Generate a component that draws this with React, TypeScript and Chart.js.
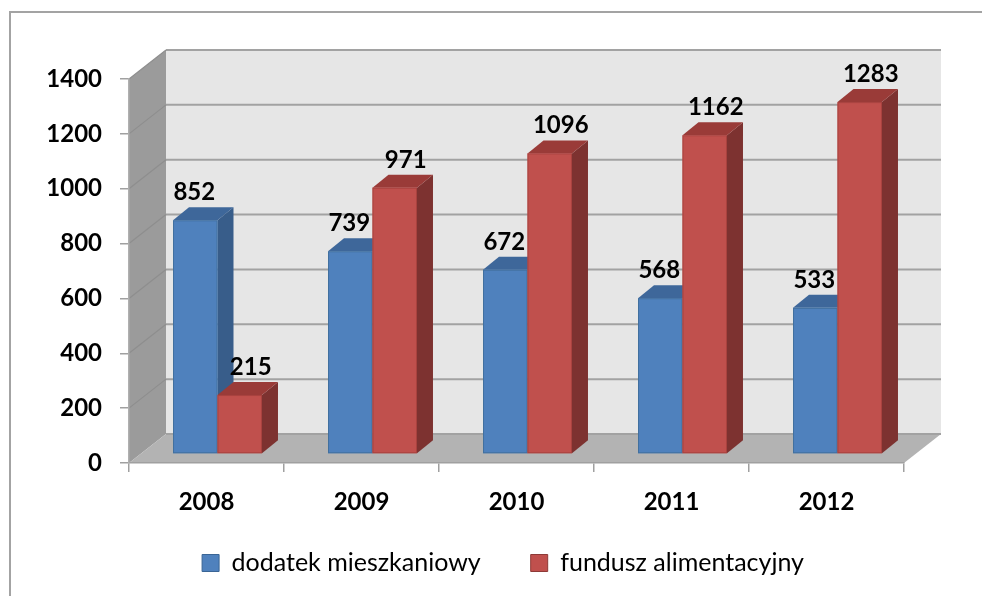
import React, { useEffect, useRef } from "react";
import { Chart, registerables } from "chart.js";

Chart.register(...registerables);

// ---- data ----
const categories = ["2008", "2009", "2010", "2011", "2012"];
const seriesNames = ["dodatek mieszkaniowy", "fundusz alimentacyjny"];
const dodatekMieszkaniowy = [852, 739, 672, 568, 533];
const funduszAlimentacyjny = [215, 971, 1096, 1162, 1283];
const yTicks = [0, 200, 400, 600, 800, 1000, 1200, 1400];

// ---- styles ----
const FONT = "Lato, 'Open Sans', sans-serif";
const WALL_DX = 37;
const WALL_DY = -29;
const BAR_SHIFT_X = 11;
const BAR_SHIFT_Y = -9;
const BAR_DX = 16;
const BAR_DY = -13;
const palette = [
  { front: "#4F81BD", top: "#3E679A", side: "#385D8A", edge: "#42709F" },
  { front: "#C0504D", top: "#9A3B38", side: "#7D3230", edge: "#A8423F" },
];
const labelOffsetX = [-1, 11];
const labelGap = 20;
const LEGEND_PAD = 50;
const LEGEND_FONT = 25;
const LEGEND_CENTER_X = 503;
const LEGEND_TEXT_Y = 563;

function poly(ctx: CanvasRenderingContext2D, pts: number[][], fill: string) {
  ctx.beginPath();
  ctx.moveTo(pts[0][0], pts[0][1]);
  for (let i = 1; i < pts.length; i++) ctx.lineTo(pts[i][0], pts[i][1]);
  ctx.closePath();
  ctx.fillStyle = fill;
  ctx.fill();
}

const threeD = {
  id: "threeD",
  afterLayout(chart: any) {
    const lg = chart.legend;
    if (!lg) return;
    const dx = LEGEND_CENTER_X - (lg.left + lg.right) / 2;
    const itemH = Math.max(LEGEND_FONT, 17);
    const dy = LEGEND_TEXT_Y - (lg.top + LEGEND_PAD + itemH / 2);
    lg.left += dx;
    lg.right += dx;
    lg.top += dy;
    lg.bottom += dy;
  },
  beforeDraw(chart: any) {
    const { ctx, chartArea } = chart;
    const { left, right } = chartArea;
    const y = chart.scales.y;
    const y0 = y.getPixelForValue(0);
    const yMax = y.getPixelForValue(y.max);
    ctx.save();
    ctx.strokeStyle = "#a3a3a3";
    ctx.lineWidth = 2;
    ctx.strokeRect(10, 12, chart.width + 40, chart.height + 40);
    ctx.fillStyle = "#E6E6E6";
    ctx.fillRect(left + WALL_DX, yMax + WALL_DY, right - left, y0 - yMax);
    poly(ctx, [
      [left, yMax],
      [left + WALL_DX, yMax + WALL_DY],
      [left + WALL_DX, y0 + WALL_DY],
      [left, y0],
    ], "#9B9B9B");
    poly(ctx, [
      [left, y0],
      [right, y0],
      [right + WALL_DX, y0 + WALL_DY],
      [left + WALL_DX, y0 + WALL_DY],
    ], "#B3B3B3");
    for (const v of yTicks) {
      const py = y.getPixelForValue(v);
      ctx.beginPath();
      ctx.strokeStyle = "#A2A2A2";
      ctx.lineWidth = 2;
      ctx.moveTo(left + WALL_DX, py + WALL_DY);
      ctx.lineTo(right + WALL_DX, py + WALL_DY);
      ctx.stroke();
      if (v > 0) {
        ctx.beginPath();
        ctx.strokeStyle = "#8E8E8E";
        ctx.lineWidth = 1.2;
        ctx.moveTo(left, py);
        ctx.lineTo(left + WALL_DX, py + WALL_DY);
        ctx.stroke();
      }
    }
    ctx.restore();
  },
  beforeDatasetsDraw(chart: any) {
    const { ctx } = chart;
    ctx.save();
    chart.data.datasets.forEach((ds: any, di: number) => {
      const meta = chart.getDatasetMeta(di);
      const col = palette[di];
      meta.data.forEach((el: any) => {
        const { x, y, base, width } = el.getProps(["x", "y", "base", "width"], true);
        const x0 = x - width / 2 + BAR_SHIFT_X;
        const x1 = x + width / 2 + BAR_SHIFT_X;
        const t = y + BAR_SHIFT_Y;
        const b = base + BAR_SHIFT_Y;
        poly(ctx, [[x1, b], [x1, t], [x1 + BAR_DX, t + BAR_DY], [x1 + BAR_DX, b + BAR_DY]], col.side);
        poly(ctx, [[x0, t], [x1, t], [x1 + BAR_DX, t + BAR_DY], [x0 + BAR_DX, t + BAR_DY]], col.top);
        ctx.fillStyle = col.front;
        ctx.fillRect(x0, t, x1 - x0, b - t);
        ctx.strokeStyle = col.edge;
        ctx.lineWidth = 1;
        ctx.strokeRect(x0 + 0.5, t + 0.5, x1 - x0 - 1, b - t - 1);
      });
    });
    ctx.font = `bold 24px ${FONT}`;
    ctx.fillStyle = "#000";
    ctx.textAlign = "center";
    ctx.textBaseline = "alphabetic";
    chart.data.datasets.forEach((ds: any, di: number) => {
      const meta = chart.getDatasetMeta(di);
      meta.data.forEach((el: any, i: number) => {
        const { x, y } = el.getProps(["x", "y"], true);
        ctx.fillText(String(ds.data[i]), x + BAR_SHIFT_X + labelOffsetX[di], y + BAR_SHIFT_Y - labelGap);
      });
    });
    ctx.restore();
    return false;
  },
};

export default function App() {
  const ref = useRef<HTMLCanvasElement>(null);
  useEffect(() => {
    if (!ref.current) return;
    const chart = new Chart(ref.current, {
      type: "bar",
      data: {
        labels: categories,
        datasets: [
          {
            label: seriesNames[0],
            data: dodatekMieszkaniowy,
            backgroundColor: palette[0].front,
            borderColor: "#3A6595",
            borderWidth: 1,
          },
          {
            label: seriesNames[1],
            data: funduszAlimentacyjny,
            backgroundColor: palette[1].front,
            borderColor: "#8E3A37",
            borderWidth: 1,
          },
        ],
      },
      options: {
        responsive: false,
        animation: false,
        categoryPercentage: 0.574,
        barPercentage: 1,
        layout: { padding: { top: 79, left: 44, right: 78, bottom: -6 } },
        plugins: {
          tooltip: { enabled: false },
          legend: {
            position: "bottom",
            labels: {
              boxWidth: 17,
              boxHeight: 17,
              padding: LEGEND_PAD,
              color: "#000",
              font: { family: FONT, size: LEGEND_FONT },
            },
          },
        },
        scales: {
          x: {
            grid: {
              display: true,
              drawOnChartArea: false,
              drawTicks: true,
              tickLength: 9,
              color: "#A0A0A0",
              lineWidth: 1.5,
            },
            border: { display: true, color: "#A0A0A0", width: 1.5 },
            ticks: {
              color: "#000",
              padding: 16,
              font: { family: FONT, size: 24, weight: "bold" },
            },
            afterFit: (s: any) => {
              s.height = 54;
            },
          },
          y: {
            min: 0,
            max: 1400,
            grid: {
              display: true,
              drawOnChartArea: false,
              drawTicks: true,
              tickLength: 9,
              color: "#A0A0A0",
              lineWidth: 1.5,
            },
            border: { display: true, color: "#B0B0B0", width: 1.5 },
            ticks: {
              stepSize: 200,
              color: "#000",
              padding: 18,
              font: { family: FONT, size: 24, weight: "bold" },
              callback: (v: any) => String(v),
            },
            afterFit: (s: any) => {
              s.width = 85;
            },
          },
        },
      },
      plugins: [threeD],
    });
    return () => chart.destroy();
  }, []);
  return (
    <div style={{ position: "absolute", left: 0, top: 0, width: 982, height: 596, background: "#fff" }}>
      <canvas ref={ref} width={982} height={596} style={{ display: "block" }} />
    </div>
  );
}
